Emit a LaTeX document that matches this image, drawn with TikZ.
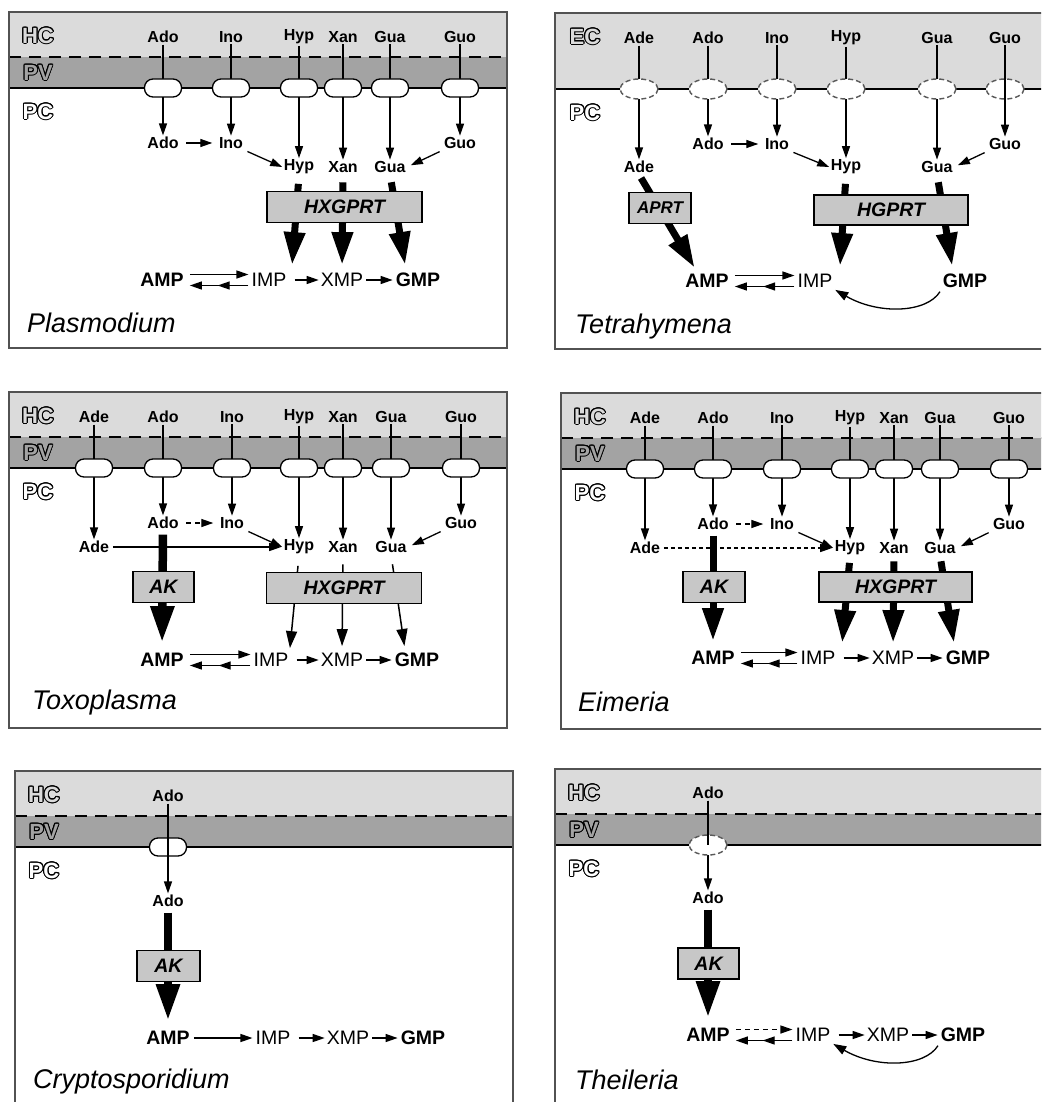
\documentclass[tikz,border=0pt]{standalone}
\usepackage{fontspec}
\setmainfont{Liberation Sans}
\usepackage{contour}
\contourlength{1pt}
\usetikzlibrary{arrows.meta,shapes.geometric,calc,decorations.markings}
\definecolor{hcc}{gray}{0.86}
\definecolor{pvc}{gray}{0.64}
\definecolor{enzc}{gray}{0.78}
\definecolor{framec}{gray}{0.32}
\definecolor{ovalc}{gray}{0.35}
\newcommand\panelhpv[1]{%
  \fill[hcc] (0,0) rectangle (498,45);
  \fill[pvc] (0,45) rectangle (498,76);
  \draw[memd] (0,45) -- (498,45);
  \draw[mems] (0,76) -- (498,76);
  \node[zone] (#1HC) at (29,24) {\color{hcc}\contour{black}{HC}};
  \node[zone] (#1PV) at (29,61) {\color{pvc}\contour{black}{PV}};
  \node[zone] (#1PC) at (29,100) {\color{white}\contour{black}{PC}};
}
\newcommand\panelframe{\draw[framebox] (0,0) rectangle (498,336);}
\begin{document}
\begin{tikzpicture}[x=1pt,y=-1pt,
  framebox/.style={draw=framec, line width=1.6pt},
  memd/.style={line width=2.5pt, dash pattern=on 12pt off 8pt},
  mems/.style={line width=2pt},
  met/.style={font=\bfseries\fontsize{16}{16}\selectfont, inner sep=1.5pt},
  row/.style={font=\fontsize{19.5}{19.5}\selectfont, inner sep=1pt},
  rowb/.style={font=\bfseries\fontsize{19.5}{19.5}\selectfont, inner sep=1pt},
  enzbox/.style={draw=black, fill=enzc, line width=1.2pt, font=\bfseries\itshape\fontsize{19.5}{19.5}\selectfont, minimum height=31pt, inner sep=0pt},
  transp/.style={draw=black, fill=white, line width=1.3pt, rounded corners=8.5pt, minimum width=37pt, minimum height=18pt, inner sep=0pt},
  transpd/.style={ellipse, draw=ovalc, dash pattern=on 5pt off 3pt, fill=white, line width=1.4pt, minimum width=38pt, minimum height=20pt, inner sep=0pt},
  ar/.style={line width=1.3pt, -{Triangle[length=12pt,width=8pt]}},
  mar/.style={line width=1.5pt, -{Triangle[length=17pt,width=11pt]}},
  carr/.style={line width=1.3pt, -{Triangle[length=13pt,width=9pt]}},
  big/.style={line width=7pt, -{Triangle[length=33pt,width=20pt]}},
  akbig/.style={line width=8.5pt, -{Triangle[length=37pt,width=22pt]}},
  dbl/.style={line width=1.3pt, -{Triangle[length=12pt,width=8pt]}, postaction={decorate},
    decoration={markings, mark=at position 0.5 with {\arrow{Triangle[length=12pt,width=8pt]}}}},
  zone/.style={font=\bfseries\fontsize{22}{22}\selectfont, inner sep=0pt},
  species/.style={font=\itshape\fontsize{27}{27}\selectfont, anchor=west, inner sep=0pt},
  dsh/.style={dash pattern=on 5pt off 4pt}
]
\useasboundingbox (0,0) rectangle (1041,1102);
\clip (0,0) rectangle (1041,1102);
\fill[white] (0,0) rectangle (1041,1102);

% ================= Plasmodium =================
\begin{scope}[shift={(9,12)}]
  \panelhpv{a}
  \node[met] (aAdoT) at (154,25) {Ado};
  \node[met] (aInoT) at (222,25) {Ino};
  \node[met] (aHypT) at (290,25) {Hyp};
  \node[met] (aXanT) at (334,25) {Xan};
  \node[met] (aGuaT) at (381,25) {Gua};
  \node[met] (aGuoT) at (451,25) {Guo};
  \node[met] (aAdo) at (154,131) {Ado};
  \node[met] (aIno) at (222,131) {Ino};
  \node[met] (aHyp) at (290,155) {Hyp};
  \node[met] (aXan) at (334,155) {Xan};
  \node[met] (aGua) at (381,155) {Gua};
  \node[met] (aGuo) at (451,131) {Guo};
  \node[rowb] (aAMP) at (153,268) {AMP};
  \node[row] (aIMP) at (260,268) {IMP};
  \node[row] (aXMP) at (333,268) {XMP};
  \node[rowb] (aGMP) at (409,268) {GMP};
  \foreach \m in {Ado,Ino,Hyp,Xan,Gua,Guo} {\draw[ar] (a\m T.south) -- (a\m.north);}
  \foreach \m in {Ado,Ino,Hyp,Xan,Gua,Guo} {\node[transp] (a\m Tr) at (a\m T|-0,76) {};}
  \draw[ar, shorten <=6pt, shorten >=5pt] (aAdo.east) -- (aIno.west);
  \draw[ar, shorten <=3pt] (aIno.south east) -- (aHyp.west);
  \draw[ar, shorten <=3pt, shorten >=4pt] (aGuo.south west) -- (aGua.east);
  \draw[big, shorten <=8pt, shorten >=7pt] (aHyp.south) -- ($(aIMP.north east)+(4,0)$);
  \draw[big, shorten <=8pt, shorten >=7pt] (aXan.south) -- (aXMP.north);
  \draw[big, shorten <=8pt, shorten >=7pt] (aGua.south) -- ($(aGMP.north)!0.5!(aGMP.north west)$);
  \node[enzbox, minimum width=155pt] (aHX) at (335.5,195) {HXGPRT};
  \draw[ar, shorten <=5pt, shorten >=2pt] ([yshift=5.5pt]aAMP.east) -- ([yshift=5.5pt]aIMP.west);
  \draw[dbl, shorten <=2pt, shorten >=5pt] ([yshift=-5.5pt]aIMP.west) -- ([yshift=-5.5pt]aAMP.east);
  \draw[ar, shorten <=7pt, shorten >=1pt] (aIMP.east) -- (aXMP.west);
  \draw[ar, shorten <=2pt, shorten >=2pt] (aXMP.east) -- (aGMP.west);
  \node[species] (aSp) at (18,311) {Plasmodium};
  \panelframe
\end{scope}

% ================= Tetrahymena =================
\begin{scope}[shift={(555,13)}]
  \fill[hcc] (0,0) rectangle (498,76);
  \draw[mems] (0,76) -- (498,76);
  \node[zone] (bEC) at (30,24) {\color{hcc}\contour{black}{EC}};
  \node[zone] (bPC) at (30,100) {\color{white}\contour{black}{PC}};
  \node[met] (bAdeT) at (84,25) {Ade};
  \node[met] (bAdoT) at (153,25) {Ado};
  \node[met] (bInoT) at (222,25) {Ino};
  \node[met] (bHypT) at (291,25) {Hyp};
  \node[met] (bGuaT) at (382,25) {Gua};
  \node[met] (bGuoT) at (450,25) {Guo};
  \node[met] (bAde) at (84,154) {Ade};
  \node[met] (bAdo) at (153,131) {Ado};
  \node[met] (bIno) at (222,131) {Ino};
  \node[met] (bHyp) at (291,154) {Hyp};
  \node[met] (bGua) at (382,154) {Gua};
  \node[met] (bGuo) at (450,131) {Guo};
  \node[rowb] (bAMP) at (152,268) {AMP};
  \node[row] (bIMP) at (260,268) {IMP};
  \node[rowb] (bGMP) at (410,268) {GMP};
  \foreach \m in {Ade,Ado,Ino,Hyp,Gua} {\draw[ar] (b\m T.south) -- (b\m.north);}
  \foreach \m in {Ade,Ado,Ino,Hyp,Gua,Guo} {\node[transpd] (b\m Tr) at (b\m T|-0,76) {};}
  \draw[ar] (bGuoT.south) -- (bGuo.north);
  \draw[ar, shorten <=6pt, shorten >=5pt] (bAdo.east) -- (bIno.west);
  \draw[ar, shorten <=3pt] (bIno.south east) -- (bHyp.west);
  \draw[ar, shorten <=3pt, shorten >=4pt] (bGuo.south west) -- (bGua.east);
  \draw[big, shorten <=4pt, shorten >=6pt] (bAde.south) -- ($(bAMP.north)!0.4!(bAMP.north west)$);
  \draw[big, shorten <=8pt, shorten >=7pt] (bHyp.south) -- ($(bIMP.north east)+(6,0)$);
  \draw[big, shorten <=8pt, shorten >=7pt] (bGua.south) -- ($(bGMP.north)!0.5!(bGMP.north west)$);
  \node[enzbox, minimum width=62pt, font=\bfseries\itshape\fontsize{17}{17}\selectfont] (bAPRT) at (105,195) {APRT};
  \node[enzbox, minimum width=154pt, minimum height=30pt] (bHG) at (336,197) {HGPRT};
  \draw[ar, shorten <=5pt, shorten >=2pt] ([yshift=5.5pt]bAMP.east) -- ([yshift=5.5pt]bIMP.west);
  \draw[dbl, shorten <=2pt, shorten >=5pt] ([yshift=-5.5pt]bIMP.west) -- ([yshift=-5.5pt]bAMP.east);
  \draw[carr, shorten <=3pt, shorten >=2pt] (bGMP.south west) .. controls +(-15,24) and +(45,26) .. (bIMP.south east);
  \node[species] (bSp) at (20,314) {Tetrahymena};
  \panelframe
\end{scope}

% ================= Toxoplasma =================
\begin{scope}[shift={(9,392)}]
  \panelhpv{c}
  \node[met] (cAdeT) at (85,25) {Ade};
  \node[met] (cAdoT) at (154,25) {Ado};
  \node[met] (cInoT) at (223,25) {Ino};
  \node[met] (cHypT) at (290,25) {Hyp};
  \node[met] (cXanT) at (334,25) {Xan};
  \node[met] (cGuaT) at (382,25) {Gua};
  \node[met] (cGuoT) at (452,25) {Guo};
  \node[met] (cAde) at (85,155) {Ade};
  \node[met] (cAdo) at (154,131) {Ado};
  \node[met] (cIno) at (223,131) {Ino};
  \node[met] (cHyp) at (290,155) {Hyp};
  \node[met] (cXan) at (334,155) {Xan};
  \node[met] (cGua) at (382,155) {Gua};
  \node[met] (cGuo) at (452,131) {Guo};
  \node[rowb] (cAMP) at (153,268) {AMP};
  \node[row] (cIMP) at (262,268) {IMP};
  \node[row] (cXMP) at (333,268) {XMP};
  \node[rowb] (cGMP) at (408,268) {GMP};
  \foreach \m in {Ade,Ado,Ino,Hyp,Xan,Gua,Guo} {\draw[ar] (c\m T.south) -- (c\m.north);}
  \foreach \m in {Ade,Ado,Ino,Hyp,Xan,Gua,Guo} {\node[transp] (c\m Tr) at (c\m T|-0,76) {};}
  \draw[ar, dsh, shorten <=6pt, shorten >=5pt] (cAdo.east) -- (cIno.west);
  \draw[ar, shorten <=3pt] (cIno.south east) -- (cHyp.west);
  \draw[ar, shorten <=2pt, shorten >=1pt] (cAde.east) -- (cHyp.west);
  \draw[ar, shorten <=3pt, shorten >=4pt] (cGuo.south west) -- (cGua.east);
  \draw[akbig, shorten <=4pt, shorten >=9pt] (cAdo.south) -- (cAMP.north);
  \node[enzbox, minimum width=61pt] (cAK) at (154.5,195) {AK};
  \draw[mar, shorten <=10pt, shorten >=4pt] (cHyp.south) -- (cIMP.north east);
  \draw[mar, shorten <=10pt, shorten >=6pt] (cXan.south) -- (cXMP.north);
  \draw[mar, shorten <=10pt, shorten >=6pt] (cGua.south) -- ($(cGMP.north)!0.5!(cGMP.north west)$);
  \node[enzbox, minimum width=155pt] (cHX) at (335,196) {HXGPRT};
  \draw[ar, shorten <=5pt, shorten >=2pt] ([yshift=5.5pt]cAMP.east) -- ([yshift=5.5pt]cIMP.west);
  \draw[dbl, shorten <=2pt, shorten >=5pt] ([yshift=-5.5pt]cIMP.west) -- ([yshift=-5.5pt]cAMP.east);
  \draw[ar, shorten <=7pt, shorten >=1pt] (cIMP.east) -- (cXMP.west);
  \draw[ar, shorten <=2pt, shorten >=2pt] (cXMP.east) -- (cGMP.west);
  \node[species] (cSp) at (23,311) {Toxoplasma};
  \panelframe
\end{scope}

% ================= Eimeria =================
\begin{scope}[shift={(561,393)}]
  \panelhpv{d}
  \node[met] (dAdeT) at (84,25) {Ade};
  \node[met] (dAdoT) at (152,25) {Ado};
  \node[met] (dInoT) at (221,25) {Ino};
  \node[met] (dHypT) at (289,25) {Hyp};
  \node[met] (dXanT) at (333,25) {Xan};
  \node[met] (dGuaT) at (379,25) {Gua};
  \node[met] (dGuoT) at (448,25) {Guo};
  \node[met] (dAde) at (84,155) {Ade};
  \node[met] (dAdo) at (152,131) {Ado};
  \node[met] (dIno) at (221,131) {Ino};
  \node[met] (dHyp) at (289,155) {Hyp};
  \node[met] (dXan) at (333,155) {Xan};
  \node[met] (dGua) at (379,155) {Gua};
  \node[met] (dGuo) at (448,131) {Guo};
  \node[rowb] (dAMP) at (152,265) {AMP};
  \node[row] (dIMP) at (257,265) {IMP};
  \node[row] (dXMP) at (332,265) {XMP};
  \node[rowb] (dGMP) at (407,265) {GMP};
  \foreach \m in {Ade,Ado,Ino,Hyp,Xan,Gua,Guo} {\draw[ar] (d\m T.south) -- (d\m.north);}
  \foreach \m in {Ade,Ado,Ino,Hyp,Xan,Gua,Guo} {\node[transp] (d\m Tr) at (d\m T|-0,76) {};}
  \draw[ar, dsh, shorten <=6pt, shorten >=5pt] (dAdo.east) -- (dIno.west);
  \draw[ar, shorten <=3pt] (dIno.south east) -- (dHyp.west);
  \draw[ar, dash pattern=on 4pt off 3pt, shorten <=2pt, shorten >=1pt] (dAde.east) -- (dHyp.west);
  \draw[ar, shorten <=3pt, shorten >=4pt] (dGuo.south west) -- (dGua.east);
  \draw[big, shorten <=4pt, shorten >=9pt] (dAdo.south) -- (dAMP.north);
  \node[enzbox, minimum width=62pt] (dAK) at (153,194) {AK};
  \draw[big, shorten <=6pt, shorten >=7pt] (dHyp.south) -- ($(dIMP.north east)+(5,0)$);
  \draw[big, shorten <=6pt, shorten >=7pt] (dXan.south) -- (dXMP.north);
  \draw[big, shorten <=6pt, shorten >=7pt] (dGua.south) -- ($(dGMP.north)!0.55!(dGMP.north west)$);
  \node[enzbox, minimum width=153pt, minimum height=30pt] (dHX) at (334.5,194) {HXGPRT};
  \draw[ar, shorten <=5pt, shorten >=2pt] ([yshift=5.5pt]dAMP.east) -- ([yshift=5.5pt]dIMP.west);
  \draw[dbl, shorten <=2pt, shorten >=5pt] ([yshift=-5.5pt]dIMP.west) -- ([yshift=-5.5pt]dAMP.east);
  \draw[ar, shorten <=7pt, shorten >=1pt] (dIMP.east) -- (dXMP.west);
  \draw[ar, shorten <=2pt, shorten >=2pt] (dXMP.east) -- (dGMP.west);
  \node[species] (dSp) at (17,309) {Eimeria};
  \panelframe
\end{scope}

% ================= Cryptosporidium =================
\begin{scope}[shift={(15,771)}]
  \panelhpv{e}
  \node[met] (eAdoT) at (153,25) {Ado};
  \node[met] (eAdo) at (153,130) {Ado};
  \node[rowb] (eAMP) at (153,267) {AMP};
  \node[row] (eIMP) at (258,267) {IMP};
  \node[row] (eXMP) at (333,267) {XMP};
  \node[rowb] (eGMP) at (408,267) {GMP};
  \node[transp] (eAdoTr) at (eAdoT|-0,76) {};
  \draw[ar] (eAdoT.south) -- (eAdo.north);
  \draw[akbig, shorten <=4pt, shorten >=9pt] (eAdo.south) -- (eAMP.north);
  \node[enzbox, minimum width=63pt] (eAK) at (153.5,195) {AK};
  \draw[ar, shorten <=3pt, shorten >=2pt] (eAMP.east) -- (eIMP.west);
  \draw[ar, shorten <=7pt, shorten >=1pt] (eIMP.east) -- (eXMP.west);
  \draw[ar, shorten <=2pt, shorten >=2pt] (eXMP.east) -- (eGMP.west);
  \node[species] (eSp) at (18,311) {Cryptosporidium};
  \panelframe
\end{scope}

% ================= Theileria =================
\begin{scope}[shift={(555,769)}]
  \panelhpv{f}
  \node[met] (fAdoT) at (153,24) {Ado};
  \node[met] (fAdo) at (153,129) {Ado};
  \node[rowb] (fAMP) at (153,266) {AMP};
  \node[row] (fIMP) at (258,266) {IMP};
  \node[row] (fXMP) at (333,266) {XMP};
  \node[rowb] (fGMP) at (408,266) {GMP};
  \draw[ar] (fAdoT.south) -- (fAdo.north);
  \node[transpd] (fAdoTr) at (fAdoT|-0,76) {};
  \draw[line width=1.3pt] (fAdoT.south) -- (fAdoTr.center);
  \draw[akbig, shorten <=4pt, shorten >=9pt] (fAdo.south) -- (fAMP.north);
  \node[enzbox, minimum width=61pt] (fAK) at (153.5,194.5) {AK};
  \draw[ar, dsh, shorten <=5pt, shorten >=2pt] ([yshift=5.5pt]fAMP.east) -- ([yshift=5.5pt]fIMP.west);
  \draw[dbl, shorten <=2pt, shorten >=5pt] ([yshift=-5.5pt]fIMP.west) -- ([yshift=-5.5pt]fAMP.east);
  \draw[ar, shorten <=7pt, shorten >=1pt] (fIMP.east) -- (fXMP.west);
  \draw[ar, shorten <=2pt, shorten >=2pt] (fXMP.east) -- (fGMP.west);
  \draw[carr, shorten <=3pt, shorten >=2pt] (fGMP.south west) .. controls +(-15,24) and +(45,26) .. (fIMP.south east);
  \node[species] (fSp) at (20,311) {Theileria};
  \panelframe
\end{scope}
\end{tikzpicture}
\end{document}
